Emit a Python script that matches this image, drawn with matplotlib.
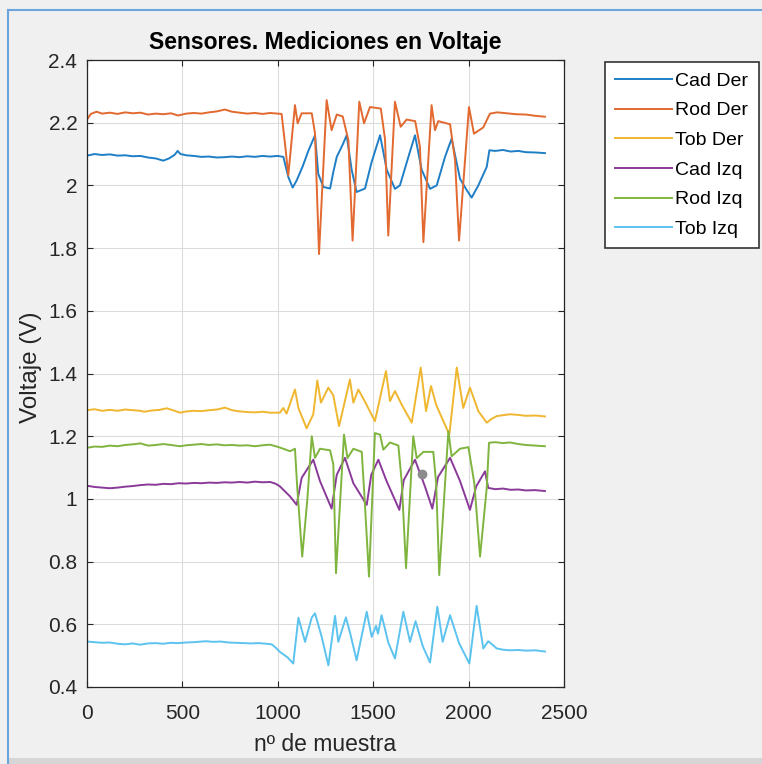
import matplotlib
matplotlib.use("Agg")
import matplotlib.pyplot as plt
from matplotlib.ticker import FuncFormatter

# values (sample index, volts)
cad_der_x = [0, 40, 80, 120, 160, 200, 240, 280, 320, 360, 400, 430, 460, 475, 490, 520, 560, 600, 640, 680,
             720, 760, 800, 840, 880, 920, 960, 1000, 1029, 1055, 1078, 1099, 1130, 1160, 1195, 1212, 1239,
             1274, 1290, 1309, 1340, 1361, 1387, 1413, 1457, 1492, 1536, 1571, 1614, 1640, 1684, 1719, 1754,
             1798, 1833, 1876, 1911, 1955, 1990, 2016, 2051, 2095, 2109, 2140, 2180, 2220, 2260, 2300, 2350,
             2400]
cad_der_y = [2.095, 2.100, 2.097, 2.099, 2.095, 2.096, 2.093, 2.094, 2.089, 2.086, 2.079, 2.086, 2.098, 2.110,
             2.100, 2.096, 2.094, 2.091, 2.092, 2.089, 2.090, 2.092, 2.090, 2.093, 2.091, 2.094, 2.092, 2.094,
             2.091, 2.027, 1.993, 2.016, 2.06, 2.11, 2.16, 2.037, 1.995, 1.99, 2.04, 2.091, 2.13, 2.16, 2.05,
             1.979, 1.99, 2.075, 2.16, 2.05, 1.989, 2.0, 2.09, 2.16, 2.05, 1.989, 2.0, 2.09, 2.149, 2.021,
             1.985, 1.961, 2.0, 2.059, 2.112, 2.110, 2.113, 2.108, 2.110, 2.106, 2.105, 2.103]

rod_der_x = [0, 20, 50, 80, 120, 160, 200, 240, 280, 320, 360, 400, 440, 477, 520, 560, 600, 640, 680, 723,
             760, 800, 840, 880, 920, 960, 1000, 1020, 1040, 1055, 1090, 1104, 1125, 1178, 1195, 1216, 1256,
             1282, 1309, 1340, 1370, 1392, 1427, 1452, 1483, 1540, 1562, 1579, 1614, 1644, 1675, 1720, 1745,
             1763, 1806, 1824, 1841, 1903, 1929, 1950, 2002, 2028, 2077, 2112, 2150, 2200, 2250, 2300, 2350,
             2400]
rod_der_y = [2.21, 2.228, 2.235, 2.229, 2.232, 2.228, 2.233, 2.230, 2.232, 2.226, 2.229, 2.227, 2.230, 2.223,
             2.229, 2.231, 2.229, 2.233, 2.236, 2.242, 2.235, 2.232, 2.229, 2.231, 2.228, 2.231, 2.229, 2.228,
             2.12, 2.032, 2.256, 2.198, 2.23, 2.23, 2.166, 1.781, 2.272, 2.176, 2.226, 2.22, 2.144, 1.824,
             2.267, 2.198, 2.25, 2.245, 2.147, 1.84, 2.267, 2.187, 2.21, 2.205, 2.123, 1.819, 2.256, 2.176,
             2.205, 2.195, 2.08, 1.824, 2.25, 2.165, 2.185, 2.229, 2.233, 2.230, 2.227, 2.226, 2.222, 2.219]

tob_der_x = [0, 40, 80, 120, 160, 200, 240, 280, 300, 340, 380, 418, 450, 487, 520, 560, 600, 640, 680, 723,
             760, 800, 840, 880, 920, 960, 1011, 1029, 1046, 1090, 1108, 1151, 1186, 1207, 1226, 1265, 1291,
             1321, 1378, 1396, 1422, 1457, 1509, 1567, 1588, 1614, 1650, 1702, 1749, 1777, 1803, 1830, 1899,
             1938, 1972, 2007, 2051, 2095, 2120, 2147, 2180, 2217, 2260, 2300, 2350, 2400]
tob_der_y = [1.283, 1.286, 1.281, 1.284, 1.281, 1.285, 1.283, 1.281, 1.278, 1.282, 1.284, 1.289, 1.283, 1.275,
             1.279, 1.281, 1.280, 1.283, 1.285, 1.291, 1.283, 1.279, 1.277, 1.276, 1.278, 1.275, 1.275, 1.29,
             1.272, 1.349, 1.29, 1.225, 1.27, 1.378, 1.307, 1.355, 1.33, 1.232, 1.381, 1.307, 1.349, 1.31,
             1.248, 1.408, 1.312, 1.344, 1.30, 1.243, 1.419, 1.28, 1.36, 1.30, 1.205, 1.419, 1.29, 1.355,
             1.28, 1.243, 1.255, 1.264, 1.267, 1.27, 1.268, 1.265, 1.266, 1.263]

cad_izq_x = [0, 40, 80, 120, 160, 200, 240, 280, 320, 360, 400, 440, 480, 520, 560, 600, 640, 680, 720, 760,
             800, 840, 880, 920, 960, 990, 1011, 1064, 1099, 1125, 1186, 1221, 1282, 1309, 1352, 1396, 1466,
             1490, 1527, 1570, 1637, 1660, 1719, 1771, 1810, 1840, 1903, 1955, 2007, 2040, 2086, 2103, 2140,
             2180, 2220, 2260, 2300, 2350, 2400]
cad_izq_y = [1.042, 1.038, 1.036, 1.034, 1.036, 1.039, 1.041, 1.044, 1.046, 1.045, 1.048, 1.047, 1.050, 1.049,
             1.051, 1.050, 1.052, 1.051, 1.053, 1.052, 1.054, 1.052, 1.055, 1.053, 1.054, 1.048, 1.04, 1.008,
             0.981, 1.067, 1.125, 1.057, 0.969, 1.077, 1.131, 1.05, 0.981, 1.077, 1.125, 1.057, 0.965, 1.06,
             1.125, 1.04, 0.969, 1.07, 1.131, 1.057, 0.965, 1.04, 1.088, 1.035, 1.031, 1.033, 1.029, 1.030,
             1.027, 1.028, 1.025]

rod_izq_x = [0, 40, 80, 120, 160, 200, 240, 280, 320, 360, 400, 440, 487, 520, 560, 600, 640, 680, 720, 760,
             800, 840, 880, 920, 959, 1000, 1038, 1064, 1090, 1102, 1128, 1155, 1178, 1195, 1221, 1274, 1291,
             1305, 1347, 1365, 1396, 1440, 1455, 1478, 1509, 1536, 1553, 1588, 1632, 1650, 1672, 1710, 1728,
             1763, 1815, 1830, 1846, 1894, 1911, 1955, 1999, 2030, 2060, 2095, 2107, 2140, 2180, 2217, 2260,
             2300, 2350, 2400]
rod_izq_y = [1.163, 1.167, 1.166, 1.170, 1.168, 1.172, 1.174, 1.177, 1.170, 1.172, 1.175, 1.172, 1.168, 1.171,
             1.173, 1.175, 1.172, 1.174, 1.171, 1.172, 1.170, 1.171, 1.168, 1.171, 1.173, 1.166, 1.158, 1.152,
             1.16, 1.035, 0.816, 1.0, 1.2, 1.131, 1.16, 1.155, 1.11, 0.763, 1.205, 1.13, 1.16, 1.15, 1.0,
             0.752, 1.21, 1.205, 1.157, 1.18, 1.17, 1.05, 0.779, 1.2, 1.13, 1.15, 1.15, 1.05, 0.757, 1.216,
             1.136, 1.16, 1.165, 1.05, 0.816, 1.035, 1.179, 1.181, 1.178, 1.180, 1.175, 1.172, 1.170, 1.168]

tob_izq_x = [0, 40, 80, 120, 160, 200, 240, 278, 320, 360, 400, 440, 480, 520, 560, 600, 627, 660, 700, 740,
             780, 820, 860, 900, 940, 968, 990, 1011, 1050, 1081, 1108, 1143, 1178, 1195, 1230, 1265, 1300,
             1317, 1357, 1380, 1413, 1466, 1492, 1515, 1525, 1544, 1580, 1614, 1658, 1693, 1722, 1760, 1798,
             1836, 1864, 1903, 1950, 2004, 2042, 2077, 2103, 2125, 2147, 2180, 2217, 2260, 2300, 2350, 2400]
tob_izq_y = [0.545, 0.543, 0.541, 0.542, 0.538, 0.536, 0.539, 0.535, 0.539, 0.540, 0.538, 0.541, 0.540, 0.542,
             0.543, 0.545, 0.546, 0.544, 0.545, 0.542, 0.541, 0.540, 0.539, 0.540, 0.538, 0.536, 0.525, 0.512,
             0.495, 0.475, 0.621, 0.544, 0.622, 0.635, 0.56, 0.469, 0.627, 0.544, 0.622, 0.57, 0.485, 0.64,
             0.56, 0.595, 0.57, 0.629, 0.54, 0.491, 0.64, 0.544, 0.61, 0.53, 0.478, 0.656, 0.544, 0.629, 0.54,
             0.475, 0.659, 0.523, 0.546, 0.535, 0.523, 0.519, 0.517, 0.518, 0.516, 0.517, 0.513]

# grey cursor dot on the plot
dot_x = [1754]
dot_y = [1.079]

labels = ["Cad Der", "Rod Der", "Tob Der", "Cad Izq", "Rod Izq", "Tob Izq"]
colors = ["#1f7fc6", "#e2692f", "#efb72f", "#8a3a98", "#7fb53e", "#5cc3ef"]

plt.rcParams['font.family'] = ['Liberation Sans', 'DejaVu Sans']

fig = plt.figure(figsize=(7.62, 7.64), dpi=100, facecolor="#f0f0f0")
ax = fig.add_axes([87 / 762, 1 - 687 / 764, 477 / 762, 627 / 764])

series = [(cad_der_x, cad_der_y), (rod_der_x, rod_der_y), (tob_der_x, tob_der_y),
          (cad_izq_x, cad_izq_y), (rod_izq_x, rod_izq_y), (tob_izq_x, tob_izq_y)]
for (xs, ys), lab, col in zip(series, labels, colors):
    ax.plot(xs, ys, color=col, lw=1.4, label=lab)
ax.plot(dot_x, dot_y, "o", color="#8c8c8c", ms=6, zorder=5)

ax.set_xlim(0, 2500)
ax.set_ylim(0.4, 2.4)
ax.set_xticks(range(0, 2501, 500))
ax.set_yticks([0.4 + 0.2 * i for i in range(11)])
ax.yaxis.set_major_formatter(FuncFormatter(lambda v, p: "%g" % round(v, 1)))
ax.grid(True, color="#dcdcdc", lw=0.8)
ax.set_axisbelow(True)
ax.tick_params(direction="in", top=True, right=True, length=4, colors="#262626", labelsize=15)
ax.tick_params(axis="x", pad=12)
ax.tick_params(axis="y", pad=7)
for s in ax.spines.values():
    s.set_color("#262626")
    s.set_linewidth(0.9)

ax.set_title("Sensores. Mediciones en Voltaje", fontsize=16.5, fontweight="bold", pad=8)
ax.set_xlabel("nº de muestra", fontsize=16.5, color="#262626", va="center")
ax.xaxis.set_label_coords(0.5, -0.0925)
ax.set_ylabel("Voltaje (V)", fontsize=17.5, color="#262626", va="center")
ax.yaxis.set_label_coords(-0.118, 0.51)

leg = fig.legend(loc="upper left", bbox_to_anchor=(605 / 762, 1 - 62 / 764), fontsize=14,
                 handlelength=2.95, handletextpad=0.15, labelspacing=0.62, borderpad=0.52,
                 fancybox=False, framealpha=1, edgecolor="#333333", borderaxespad=0)
leg.get_frame().set_linewidth(1.2)

# window frame of the screenshot
fig.add_artist(plt.Line2D([8 / 762, 1], [1 - 10 / 764, 1 - 10 / 764], color="#6aa6dc", lw=1.5))
fig.add_artist(plt.Line2D([8 / 762, 8 / 762], [0, 1 - 10 / 764], color="#6aa6dc", lw=1.5))
fig.add_artist(plt.Rectangle((9 / 762, 0), 1, 6 / 764, color="#d6d6d6", lw=0))

fig.savefig("out.png", dpi=100, facecolor=fig.get_facecolor())
